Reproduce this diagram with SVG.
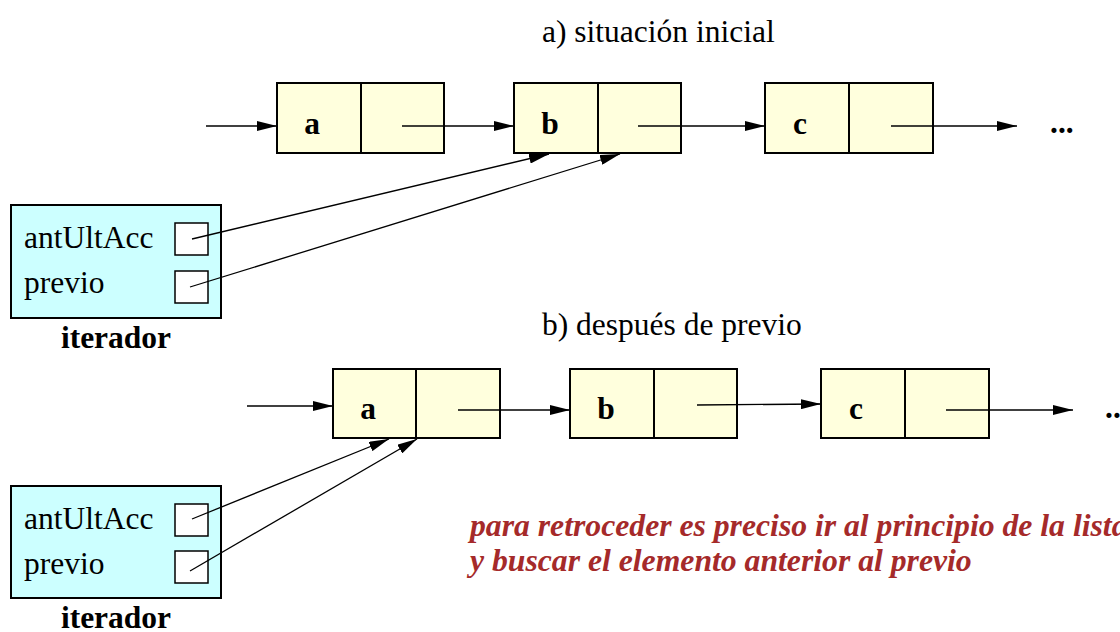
<svg xmlns="http://www.w3.org/2000/svg" width="1120" height="632" viewBox="0 0 1120 632">
<style>
.t{font-family:"Liberation Serif","Times New Roman",serif;font-size:31.5px;fill:#000}
.b{font-weight:bold}
.node{fill:#ffffdd;stroke:#000;stroke-width:2}
.div{stroke:#000;stroke-width:2}
.iter{fill:#ccffff;stroke:#000;stroke-width:2}
.slot{fill:#fff;stroke:#000;stroke-width:1.5}
.c{stroke:#000;stroke-width:1.3;fill:none;marker-end:url(#ah)}
.note{font-family:"Liberation Serif","Times New Roman",serif;font-size:31.7px;font-weight:bold;font-style:italic;fill:#a52a2a}
</style>
<defs>
<marker id="ah" viewBox="0 0 20 10" refX="20" refY="5" markerWidth="20" markerHeight="10" markerUnits="userSpaceOnUse" orient="auto">
<path d="M0,0 L20,5 L0,10 Z" fill="#000"/>
</marker>
</defs>
<rect width="1120" height="632" fill="#fff"/>
<text class="t" x="542" y="42">a) situación inicial</text>
<text class="t" x="542" y="335">b) después de previo</text>

<g id="top-a"><rect class="node" x="277" y="83" width="167" height="70"/><line class="div" x1="361" y1="83" x2="361" y2="153"/><text class="t b" x="312" y="134" text-anchor="middle">a</text></g>
<g id="top-b"><rect class="node" x="514" y="83" width="167" height="70"/><line class="div" x1="598" y1="83" x2="598" y2="153"/><text class="t b" x="550" y="134" text-anchor="middle">b</text></g>
<g id="top-c"><rect class="node" x="765" y="83" width="168" height="70"/><line class="div" x1="849" y1="83" x2="849" y2="153"/><text class="t b" x="800" y="134" text-anchor="middle">c</text></g>
<g id="top-more"><text class="t b" x="1050" y="133">...</text></g>

<g id="top-iter">
<rect class="iter" x="11" y="205" width="210" height="113"/>
<rect class="slot" x="175" y="223" width="33" height="32"/>
<rect class="slot" x="175" y="271" width="33" height="32"/>
<text class="t" x="24" y="248">antUltAcc</text>
<text class="t" x="24" y="293">previo</text>
<text class="t b" x="116" y="348" text-anchor="middle">iterador</text>
</g>

<g id="bot-a"><rect class="node" x="333" y="369" width="167" height="69"/><line class="div" x1="416" y1="369" x2="416" y2="438"/><text class="t b" x="368" y="419" text-anchor="middle">a</text></g>
<g id="bot-b"><rect class="node" x="570" y="369" width="167" height="69"/><line class="div" x1="654" y1="369" x2="654" y2="438"/><text class="t b" x="606" y="419" text-anchor="middle">b</text></g>
<g id="bot-c"><rect class="node" x="821" y="369" width="168" height="69"/><line class="div" x1="905" y1="369" x2="905" y2="438"/><text class="t b" x="856" y="419" text-anchor="middle">c</text></g>
<g id="bot-more"><text class="t b" x="1105" y="418">...</text></g>

<g id="bot-iter">
<rect class="iter" x="11" y="486" width="210" height="112"/>
<rect class="slot" x="175" y="504" width="33" height="32"/>
<rect class="slot" x="175" y="551" width="33" height="32"/>
<text class="t" x="24" y="529">antUltAcc</text>
<text class="t" x="24" y="574">previo</text>
<text class="t b" x="116" y="628" text-anchor="middle">iterador</text>
</g>

<g id="connectors">
<line class="c" x1="206" y1="126" x2="277" y2="126"/>
<line class="c" x1="402" y1="126" x2="514" y2="126"/>
<line class="c" x1="638" y1="126" x2="765" y2="126"/>
<line class="c" x1="891" y1="126" x2="1017" y2="126"/>
<line class="c" x1="192" y1="239" x2="549" y2="154"/>
<line class="c" x1="190" y1="287" x2="620" y2="154"/>
<line class="c" x1="247" y1="406" x2="333" y2="406"/>
<line class="c" x1="458" y1="410" x2="570" y2="410"/>
<line class="c" x1="697" y1="405" x2="821" y2="404"/>
<line class="c" x1="946" y1="410" x2="1073" y2="410"/>
<line class="c" x1="192" y1="519" x2="389" y2="439"/>
<line class="c" x1="190" y1="571" x2="417" y2="439"/>
</g>

<text class="note" x="470" y="536">para retroceder es preciso ir al principio de la lista</text>
<text class="note" x="470" y="571">y buscar el elemento anterior al previo</text>
</svg>
